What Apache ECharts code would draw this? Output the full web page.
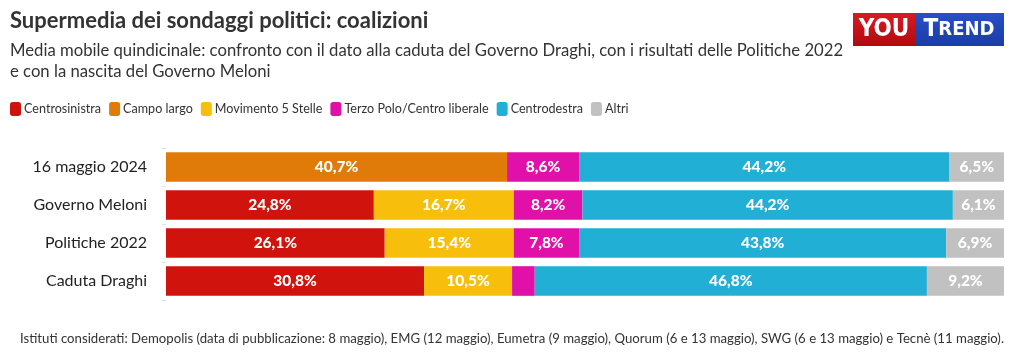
<!DOCTYPE html>
<html><head><meta charset="utf-8">
<script src="https://cdn.jsdelivr.net/npm/echarts@6/dist/echarts.min.js"></script>
<style>html,body{margin:0;padding:0;background:#fff}#c{width:1024px;height:359px}</style>
</head><body><div id="c"></div>
<script>
const categories = ['16 maggio 2024', 'Governo Meloni', 'Politiche 2022', 'Caduta Draghi'];
const centrosinistra = [null, 24.8, 26.1, 30.8];
const campoLargo = [40.7, null, null, null];
const m5s = [null, 16.7, 15.4, 10.5];
const terzoPolo = [8.6, 8.2, 7.8, 2.7];
const centrodestra = [44.2, 44.2, 43.8, 46.8];
const altri = [6.5, 6.1, 6.9, 9.2];

const FONT = 'Lato';
const chart = echarts.init(document.getElementById('c'), null, {renderer: 'canvas'});
function mk(name, data, color) {
  return {
    name, type: 'bar', stack: 'tot', data, barCategoryGap: '22%',
    itemStyle: {color},
    label: {show: true, position: 'inside', color: '#fff', fontFamily: FONT, fontWeight: 900, fontSize: 15.5,
      formatter: p => (p.value == null || p.value < 3) ? '' : p.value.toFixed(1).replace('.', ',') + '%'},
    emphasis: {disabled: true}
  };
}
chart.setOption({
  animation: false,
  textStyle: {fontFamily: FONT},
  title: [
    {text: 'Supermedia dei sondaggi politici: coalizioni', left: 5, top: 5,
     textStyle: {fontFamily: FONT, fontSize: 22, fontWeight: 'bold', color: '#333'}},
    {text: 'Media mobile quindicinale: confronto con il dato alla caduta del Governo Draghi, con i risultati delle Politiche 2022\ne con la nascita del Governo Meloni',
     left: 5, top: 35, textStyle: {fontFamily: FONT, fontSize: 16.7, fontWeight: 'normal', color: '#333', lineHeight: 21}},
    {text: 'Istituti considerati: Demopolis (data di pubblicazione: 8 maggio), EMG (12 maggio), Eumetra (9 maggio), Quorum (6 e 13 maggio), SWG (6 e 13 maggio) e Tecnè (11 maggio).',
     left: 'center', top: 327, textStyle: {fontFamily: FONT, fontSize: 13.2, fontWeight: 'normal', color: '#333'}}
  ],
  legend: {
    left: 5, top: 97, itemWidth: 11, itemHeight: 14, itemGap: 8, icon: 'roundRect',
    textStyle: {fontFamily: FONT, fontSize: 12.6, color: '#333', padding: [0, 0, 0, -2]},
    data: ['Centrosinistra', 'Campo largo', 'Movimento 5 Stelle', 'Terzo Polo/Centro liberale', 'Centrodestra', 'Altri']
  },
  grid: {left: 166, right: 20, top: 148, bottom: 59, containLabel: false},
  xAxis: {type: 'value', min: 0, max: 100, show: false},
  yAxis: {type: 'category', data: categories, inverse: true,
    axisLine: {show: false}, axisTick: {show: true, length: 4, lineStyle: {color: '#e0e0e0'}},
    axisLabel: {fontFamily: FONT, fontSize: 16, color: '#222', margin: 19}},
  series: [
    mk('Centrosinistra', centrosinistra, '#d0130c'),
    mk('Campo largo', campoLargo, '#e07b09'),
    mk('Movimento 5 Stelle', m5s, '#f7be0b'),
    mk('Terzo Polo/Centro liberale', terzoPolo, '#e010a8'),
    mk('Centrodestra', centrodestra, '#22afd5'),
    mk('Altri', altri, '#c1c1c1')
  ],
  graphic: [
    {type: 'rect', shape: {x: 853, y: 13, width: 62, height: 33},
     style: {fill: {type: 'linear', x: 0, y: 0, x2: 0, y2: 1, colorStops: [{offset: 0, color: '#d81a22'}, {offset: 1, color: '#b20a12'}]}}},
    {type: 'rect', shape: {x: 915, y: 13, width: 89, height: 33},
     style: {fill: {type: 'linear', x: 0, y: 0, x2: 0, y2: 1, colorStops: [{offset: 0, color: '#2650c4'}, {offset: 1, color: '#1b3ca6'}]}}},
    {type: 'text', x: 884, y: 30, style: {text: 'YOU', fill: '#fff', font: 'bold 24px "DejaVu Sans Condensed", "Liberation Sans"', align: 'center', verticalAlign: 'middle'}},
    {type: 'text', x: 959, y: 30, style: {text: '{a|T}{b|REND}', fill: '#fff', align: 'center', verticalAlign: 'middle',
      rich: {a: {fontSize: 24, fontWeight: 'bold', fontFamily: 'DejaVu Sans Condensed', fill: '#fff', color: '#fff'},
             b: {fontSize: 20, fontWeight: 'bold', fontFamily: 'DejaVu Sans Condensed', fill: '#fff', color: '#fff'}}}}
  ]
});
</script></body></html>
